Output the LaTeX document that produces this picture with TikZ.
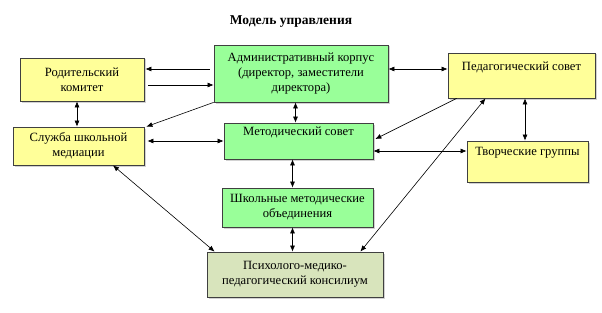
\documentclass[tikz,border=0pt]{standalone}
\usepackage{fontspec}
\setmainfont{Liberation Serif}
\usepackage{tikz}
\usetikzlibrary{arrows.meta,positioning,shadows}
\definecolor{upyellow}{HTML}{FFFF99}
\definecolor{upgreen}{HTML}{99FF99}
\definecolor{upolive}{HTML}{D8E4BC}
\definecolor{upline}{HTML}{404040}
\tikzset{
  box/.style={draw=upline,line width=0.8pt,align=center,inner sep=1pt,
    font=\rmfamily\fontsize{12.6}{15}\selectfont,
    drop shadow={shadow xshift=1.5pt,shadow yshift=-1.5pt,fill=black!35}},
  oneway/.style={-{Latex[length=6pt,width=5pt]},line width=0.6pt},
  twoway/.style={{Latex[length=6pt,width=5pt]}-{Latex[length=6pt,width=5pt]},line width=0.6pt}
}

\begin{document}
\begin{tikzpicture}[x=1pt,y=-1pt]
\useasboundingbox (0,0) rectangle (602,313);
\node[font=\rmfamily\fontsize{13.5}{15}\selectfont\bfseries] (title) at (291,22) {Модель управления};
% boxes
\node[box,fill=upyellow,minimum width=124pt,minimum height=43pt] (rod) at (82,79.5) {Родительский\\комитет};
\node[box,fill=upgreen,minimum width=174pt,minimum height=57pt] (adm) at (301,73.5) {Административный корпус\\(директор, заместители\\директора)};
\node[box,fill=upyellow,minimum width=147pt,minimum height=45pt] (ped) at (521.5,75.5) {Педагогический совет\\\strut};
\node[box,fill=upyellow,minimum width=131pt,minimum height=38pt] (med) at (78.5,146) {Служба школьной\\медиации};
\node[box,fill=upgreen,minimum width=149pt,minimum height=36pt] (met) at (298.5,141) {Методический совет\\\strut};
\node[box,fill=upyellow,minimum width=121pt,minimum height=41pt] (tvor) at (527.5,161.5) {Творческие группы\\\strut};
\node[box,fill=upgreen,minimum width=151pt,minimum height=39pt] (shmo) at (297.5,207.5) {Школьные методические\\объединения};
\node[box,fill=upolive,minimum width=176pt,minimum height=45pt] (pmpk) at (295,274.5) {Психолого-медико-\\педагогический консилиум};
% links
\draw[oneway] ([yshift=4.5pt,xshift=-4pt]adm.west) -- ([yshift=4.5pt,xshift=1pt]adm.west -| rod.east);
\draw[oneway] ([yshift=-11.5pt,xshift=4pt]adm.west -| rod.east) -- ([yshift=-11.5pt]adm.west);
\draw[twoway] ([xshift=-5pt]rod.south) -- ([xshift=-5pt]rod.south |- med.north);
\draw[oneway] (adm.south west) -- ([xshift=2pt]med.north east);
\draw[twoway] ([xshift=3pt]met.west -| med.east) -- (met.west);
\draw[twoway] ([xshift=-3pt]met.north) -- ([xshift=-3pt]met.north |- adm.south);
\draw[twoway] ([yshift=4.5pt]adm.east) -- ([yshift=4.5pt]adm.east -| ped.west);
\draw[oneway] ([xshift=9pt]ped.south west) -- ([xshift=2pt,yshift=2pt]met.east);
\draw[twoway] ([xshift=-2.5pt]tvor.north) -- ([xshift=-2.5pt]tvor.north |- ped.south);
\draw[twoway] ([yshift=10.5pt]tvor.west -| met.east) -- ([yshift=10.5pt]tvor.west);
\draw[twoway] ([xshift=-36pt]ped.south) -- ([xshift=-23pt]pmpk.north east);
\draw[twoway] ([xshift=34.5pt]med.south) -- ([xshift=8pt]pmpk.north west);
\draw[twoway] ([xshift=-6pt]met.south) -- ([xshift=-6pt]met.south |- shmo.north);
\draw[twoway] ([xshift=-5pt]shmo.south) -- ([xshift=-5pt]shmo.south |- pmpk.north);
\end{tikzpicture}
\end{document}
